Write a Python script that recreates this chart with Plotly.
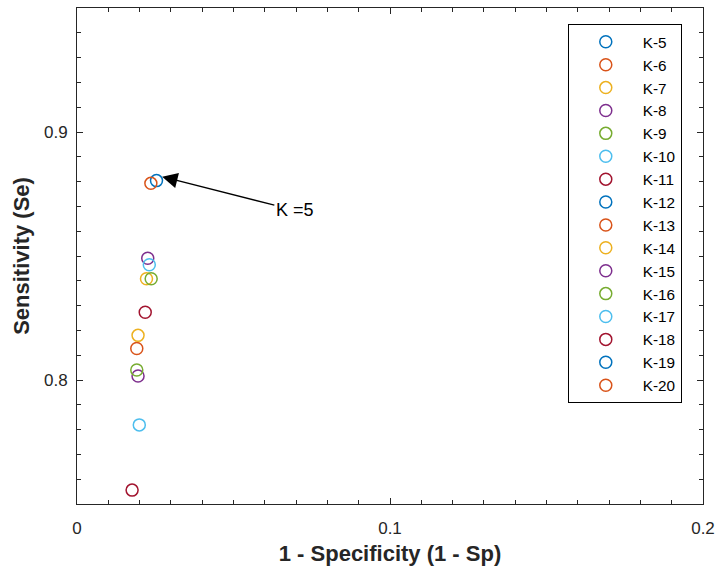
import plotly.graph_objects as go

# Neighbourhood size K for each operating point
k_labels = ["K-5", "K-6", "K-7", "K-8", "K-9", "K-10", "K-11", "K-12",
            "K-13", "K-14", "K-15", "K-16", "K-17", "K-18", "K-19", "K-20"]

# 1 - specificity (false positive rate); None where the point is not shown
fpr = [0.0254, 0.0236, 0.0222, 0.0226, 0.0237, 0.0231, 0.0218, None,
       0.0191, 0.0195, 0.0195, 0.0191, 0.0199, 0.0176, None, None]

# sensitivity (true positive rate)
sens = [0.8804, 0.8793, 0.8408, 0.8491, 0.8408, 0.8465, 0.8273, None,
        0.8127, 0.8180, 0.8016, 0.8040, 0.7819, 0.7556, None, None]

# MATLAB default colour order
palette = ["#0072BD", "#D95319", "#EDB120", "#7E2F8E",
           "#77AC30", "#4DBEEE", "#A2142F"]

axis_color = "#262626"
font_family = "Liberation Sans, Arial, Helvetica, sans-serif"

fig = go.Figure()
for i, name in enumerate(k_labels):
    fig.add_trace(go.Scatter(
        x=[fpr[i]], y=[sens[i]], name=name, mode="markers",
        marker=dict(symbol="circle-open", size=12,
                    color=palette[i % len(palette)],
                    line=dict(width=1.5, color=palette[i % len(palette)])),
    ))

fig.add_annotation(
    x=0.0272, y=0.8820, xref="x", yref="y",
    ax=0.0696, ay=0.8684, axref="x", ayref="y",
    text="K =5", showarrow=True,
    arrowhead=2, arrowsize=2.2, arrowwidth=1.4, arrowcolor="black",
    font=dict(family=font_family, size=18, color="black"),
)

axis_common = dict(
    showgrid=False, zeroline=False, showline=True, linecolor=axis_color,
    linewidth=1, mirror="ticks", ticks="inside", ticklen=6,
    tickcolor=axis_color,
    tickfont=dict(family=font_family, size=17, color=axis_color),
)

fig.update_xaxes(
    range=[0, 0.2], tickvals=[0, 0.1, 0.2], ticktext=["0", "0.1", "0.2"],
    minor=dict(dtick=0.01, ticks="inside", ticklen=4, tickcolor=axis_color),
    ticklabelstandoff=9,
    title=dict(text="<b>1 - Specificity (1 - Sp)</b>", standoff=8,
               font=dict(family=font_family, size=22, color=axis_color)),
    **axis_common,
)
fig.update_yaxes(
    range=[0.75, 0.95], tickvals=[0.8, 0.9], ticktext=["0.8", "0.9"],
    minor=dict(dtick=0.01, ticks="inside", ticklen=4, tickcolor=axis_color),
    ticklabelstandoff=5,
    title=dict(text="<b>Sensitivity (Se)</b>", standoff=8,
               font=dict(family=font_family, size=22, color=axis_color)),
    **axis_common,
)

fig.update_layout(
    width=722, height=569,
    margin=dict(l=77, r=12, t=7, b=63),
    paper_bgcolor="white", plot_bgcolor="white",
    font=dict(family=font_family, color=axis_color),
    legend=dict(
        x=0.784, y=0.967, xanchor="left", yanchor="top",
        bordercolor="black", borderwidth=1, bgcolor="white",
        font=dict(family=font_family, size=15.3, color="black"),
        itemwidth=64,
    ),
)

fig.write_html("out.html")
